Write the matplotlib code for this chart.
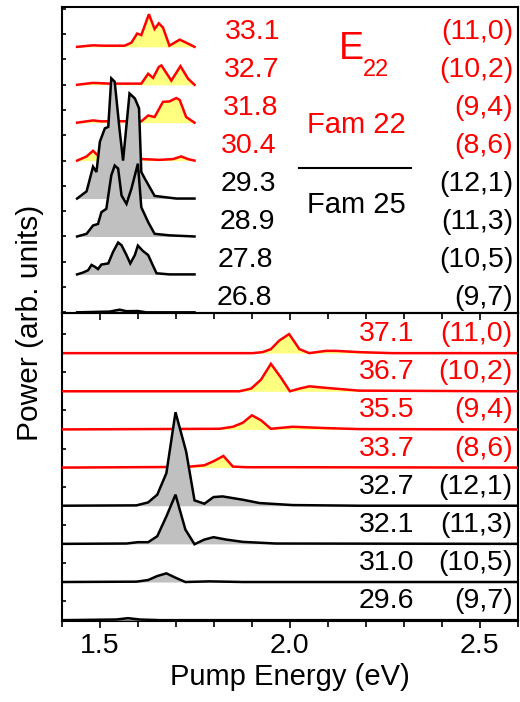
import matplotlib
matplotlib.use('Agg')
import matplotlib.pyplot as plt
from matplotlib.ticker import MultipleLocator

plt.rcParams['font.family'] = ['Liberation Sans', 'DejaVu Sans']

# --- top panel: E22 excitation profiles, listed from top to bottom ---
top_chir = ['(11,0)', '(10,2)', '(9,4)', '(8,6)', '(12,1)', '(11,3)', '(10,5)', '(9,7)']
top_vals = ['33.1', '32.7', '31.8', '30.4', '29.3', '28.9', '27.8', '26.8']

top_x_110 = [1.440, 1.482, 1.509, 1.565, 1.583, 1.598, 1.609, 1.629, 1.644, 1.655, 1.666, 1.683, 1.710, 1.727, 1.749]
top_y_110 = [0, .04, .03, .03, .11, .35, .31, .86, .47, .62, .51, .03, .19, .11, 0]
top_x_102 = [1.440, 1.482, 1.526, 1.609, 1.627, 1.640, 1.655, 1.662, 1.688, 1.712, 1.732, 1.749]
top_y_102 = [0, .05, .03, .03, .29, .18, .47, .51, .11, .49, .16, 0]
top_x_94 = [1.440, 1.482, 1.504, 1.544, 1.609, 1.627, 1.644, 1.666, 1.683, 1.701, 1.710, 1.727, 1.749]
top_y_94 = [0, .06, .035, .04, .035, .19, .15, .55, .56, .65, .60, .15, 0]
top_x_86 = [1.440, 1.465, 1.482, 1.495, 1.509, 1.613, 1.657, 1.692, 1.714, 1.732, 1.749]
top_y_86 = [0, .11, .26, .13, .06, .04, .02, .04, .11, .04, 0]
top_x_121 = [1.440, 1.465, 1.482, 1.491, 1.500, 1.513, 1.522, 1.530, 1.539, 1.552, 1.561,
             1.578, 1.592, 1.603, 1.609, 1.618, 1.644, 1.701, 1.749]
top_y_121 = [0, .19, .84, .70, 1.50, 1.85, 1.89, 3.17, 3.08, 1.80, 1.00,
             2.77, 2.64, 2.38, .70, .53, .07, 0, 0]
top_x_113 = [1.440, 1.465, 1.482, 1.495, 1.504, 1.517, 1.530, 1.539, 1.548, 1.557, 1.570,
             1.583, 1.600, 1.609, 1.627, 1.644, 1.683, 1.749]
top_y_113 = [0, .07, .29, .33, .64, .73, 1.61, 1.87, 1.79, 1.08, .86,
             1.26, 1.92, .77, .38, .07, .03, 0]
top_x_105 = [1.440, 1.456, 1.469, 1.478, 1.487, 1.495, 1.504, 1.522, 1.535, 1.548, 1.557,
             1.570, 1.580, 1.592, 1.600, 1.613, 1.627, 1.649, 1.683, 1.749]
top_y_105 = [0, .05, .11, .25, .20, .14, .26, .29, .60, .84, .77,
             .51, .29, .51, .76, .62, .51, .03, 0, 0]
top_x_97 = [1.440, 1.526, 1.552, 1.570, 1.600, 1.622, 1.749]
top_y_97 = [0, .02, .07, .03, .035, 0, 0]

top_x = [top_x_110, top_x_102, top_x_94, top_x_86, top_x_121, top_x_113, top_x_105, top_x_97]
top_y = [top_y_110, top_y_102, top_y_94, top_y_86, top_y_121, top_y_113, top_y_105, top_y_97]

# --- bottom panel: second set of profiles, same tube order ---
bot_chir = ['(11,0)', '(10,2)', '(9,4)', '(8,6)', '(12,1)', '(11,3)', '(10,5)', '(9,7)']
bot_vals = ['37.1', '36.7', '35.5', '33.7', '32.7', '32.1', '31.0', '29.6']

bot_x_110 = [1.40, 1.902, 1.928, 1.950, 1.972, 1.998, 2.025, 2.051, 2.095, 2.121, 2.182, 2.27, 2.60]
bot_y_110 = [0, 0, .026, .105, .33, .50, .105, 0, .06, .06, .026, 0, 0]
bot_x_102 = [1.40, 1.867, 1.898, 1.924, 1.950, 1.977, 2.000, 2.025, 2.051, 2.095, 2.182, 2.60]
bot_y_102 = [0, 0, .07, .305, .72, .35, 0, .07, .13, .09, .017, 0]
bot_x_94 = [1.40, 1.815, 1.850, 1.876, 1.900, 1.924, 1.950, 2.007, 2.095, 2.182, 2.60]
bot_y_94 = [0, .017, .07, .175, .37, .24, .017, .07, .035, .009, 0]
bot_x_86 = [1.40, 1.727, 1.775, 1.802, 1.825, 1.850, 1.885, 2.007, 2.60]
bot_y_86 = [0, .017, .06, .18, .305, .026, .009, .009, 0]
bot_x_121 = [1.40, 1.596, 1.627, 1.651, 1.675, 1.699, 1.727, 1.749, 1.775, 1.799, 1.823,
             1.876, 1.920, 2.007, 2.182, 2.60]
bot_y_121 = [0, .009, .087, .29, .855, 2.45, 1.42, .14, .052, .227, .244,
             .157, .07, .017, 0, 0]
bot_x_113 = [1.40, 1.570, 1.600, 1.627, 1.651, 1.675, 1.699, 1.725, 1.749, 1.775, 1.799,
             1.832, 1.876, 1.963, 2.60]
bot_y_113 = [0, .009, .044, .044, .20, .72, 1.29, .375, -.01, .113, .175,
             .113, .052, .009, 0]
bot_x_105 = [1.40, 1.596, 1.627, 1.651, 1.675, 1.699, 1.725, 1.788, 1.876, 2.60]
bot_y_105 = [0, .009, .052, .157, .227, .113, 0, .017, 0, 0]
bot_x_97 = [1.40, 1.5435, 1.574, 1.605, 1.66, 2.60]
bot_y_97 = [0, .017, .052, .017, 0, 0]

bot_x = [bot_x_110, bot_x_102, bot_x_94, bot_x_86, bot_x_121, bot_x_113, bot_x_105, bot_x_97]
bot_y = [bot_y_110, bot_y_102, bot_y_94, bot_y_86, bot_y_121, bot_y_113, bot_y_105, bot_y_97]

n_fam22 = 4  # first four tubes belong to family 22
line_cols = ['#ff0000'] * n_fam22 + ['#000000'] * 4
fill_cols = ['#ffff80'] * n_fam22 + ['#c0c0c0'] * 4

fig = plt.figure(figsize=(5.2, 7.02), dpi=100)
ax1 = fig.add_axes([0.119, 0.554, 0.877, 0.436])
ax2 = fig.add_axes([0.119, 0.1155, 0.877, 0.4385], sharex=ax1)
ax2.patch.set_alpha(0)


def draw_stack(ax, xs, ys):
    n = len(xs)
    for i, (x, y) in enumerate(zip(xs, ys)):
        base = n - 1 - i
        top = [base + v for v in y]
        ax.fill_between(x, base, top, color=fill_cols[i], lw=0, zorder=2 + i)
        ax.plot(x, top, color=line_cols[i], lw=1.8, zorder=2.5 + i,
                solid_joinstyle='miter')


draw_stack(ax1, top_x, top_y)
draw_stack(ax2, bot_x, bot_y)

fs = 20.5
for i in range(8):
    base = 7 - i
    ax1.text(1.975 - 0.003 * i, base + 0.38, top_vals[i], color=line_cols[i],
             fontsize=fs, ha='right', va='center')
    ax1.text(2.588, base + 0.38, top_chir[i], color=line_cols[i],
             fontsize=fs, ha='right', va='center')
    ax2.text(2.327, base + 0.5, bot_vals[i], color=line_cols[i],
             fontsize=fs, ha='right', va='center')
    ax2.text(2.586, base + 0.5, bot_chir[i], color=line_cols[i],
             fontsize=fs, ha='right', va='center')

# family annotation
ax1.text(2.161, 6.94, 'E', color='#ff0000', fontsize=27, ha='center', va='center')
ax1.text(2.192, 6.39, '22', color='#ff0000', fontsize=17, ha='left', va='center')
ax1.text(2.174, 4.93, 'Fam 22', color='#ff0000', fontsize=21, ha='center', va='center')
ax1.plot([2.025, 2.319], [3.80, 3.80], color='k', lw=1.5)
ax1.text(2.174, 2.82, 'Fam 25', color='k', fontsize=21, ha='center', va='center')

for ax in (ax1, ax2):
    ax.set_ylim(-0.02, 8.05)
    for sp in ax.spines.values():
        sp.set_linewidth(1.5)
    ax.tick_params(axis='y', direction='in', length=3, width=1.2,
                   labelleft=False, right=False)
    ax.tick_params(axis='x', which='both', direction='out', width=1.2, top=False)
    ax.tick_params(axis='x', which='major', length=5)
    ax.tick_params(axis='x', which='minor', length=4)
ax1.yaxis.set_major_locator(MultipleLocator(2 / 3))
ax2.set_yticks([0.5 + k for k in range(8)])

ax1.set_xlim(1.4, 2.6)
ax1.xaxis.set_major_locator(MultipleLocator(0.5))
ax1.xaxis.set_minor_locator(MultipleLocator(0.1))
ax1.tick_params(axis='x', labelbottom=False)
ax2.set_xticks([1.5, 2.0, 2.5])
ax2.set_xticklabels(['1.5', '2.0', '2.5'], fontsize=fs)
ax2.set_xlabel('Pump Energy (eV)', fontsize=21, labelpad=3)

fig.text(0.058, 0.54, 'Power (arb. units)', rotation=90, fontsize=21.5,
         ha='center', va='center')

fig.savefig('out.png', dpi=100)
